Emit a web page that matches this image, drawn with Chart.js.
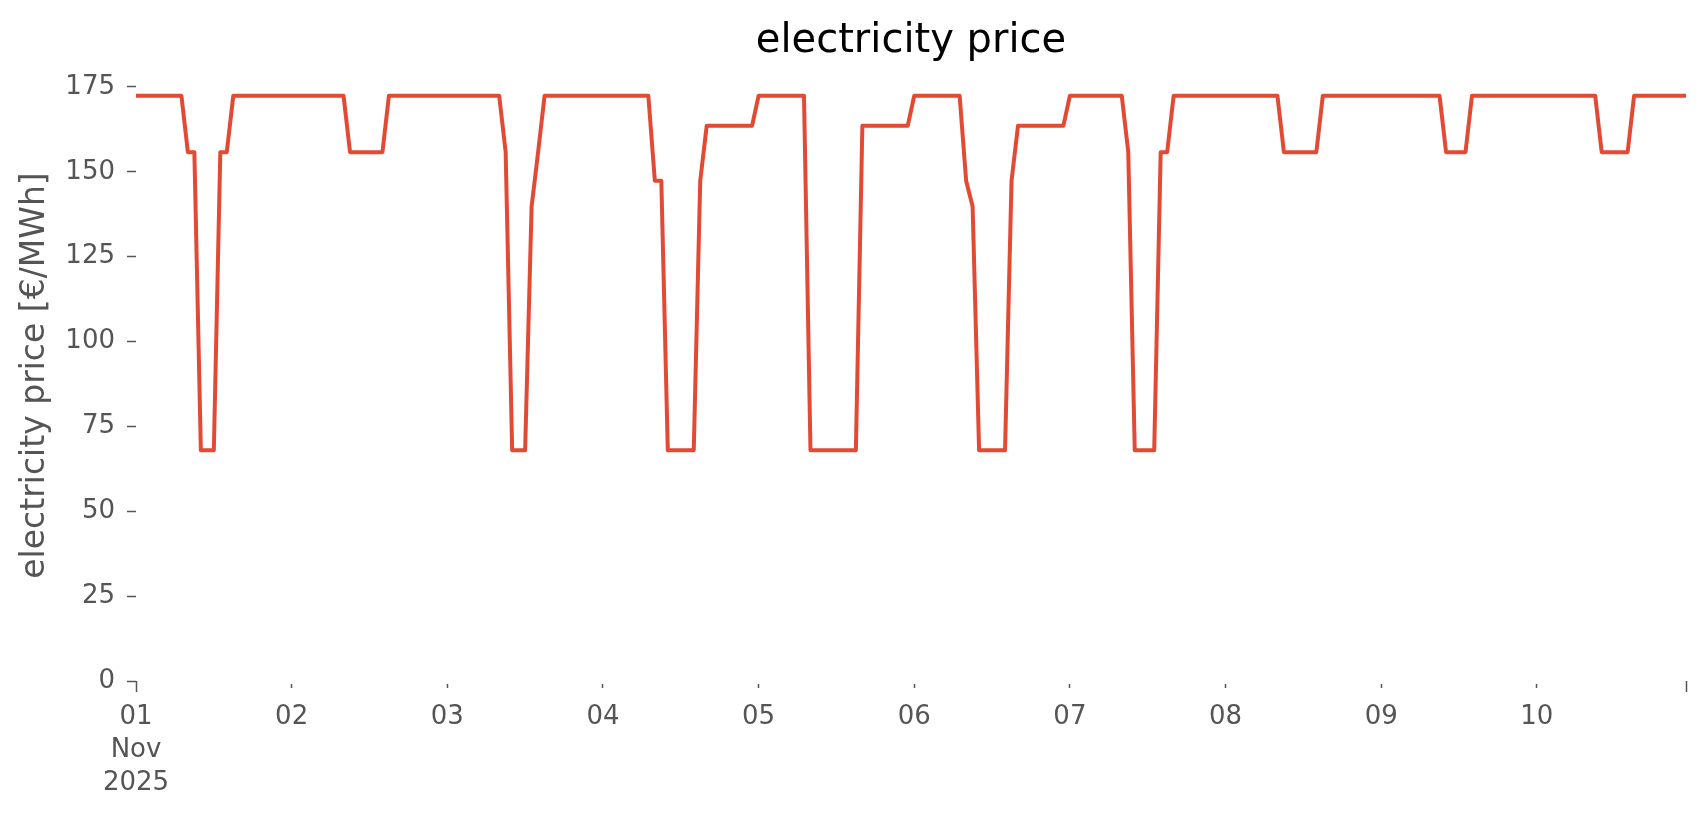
<!DOCTYPE html>
<html>
<head>
<meta charset="utf-8">
<title>electricity price</title>
<script src="https://cdn.jsdelivr.net/npm/chart.js@4.4.1/dist/chart.umd.min.js"></script>
<style>
  html, body { margin: 0; padding: 0; background: #ffffff; }
  canvas { display: block; }
</style>
</head>
<body>
<canvas id="priceChart" width="1706" height="815"></canvas>
<script>
// hourly price, 01 Nov 2025 00:00 .. 10 Nov 2025 23:00 (one row per day)
const prices = [
  172.4, 172.4, 172.4, 172.4, 172.4, 172.4, 172.4, 172.4, 155.8, 155.8, 68.0, 68.0, 68.0, 155.8, 155.8, 172.4, 172.4, 172.4, 172.4, 172.4, 172.4, 172.4, 172.4, 172.4,
  172.4, 172.4, 172.4, 172.4, 172.4, 172.4, 172.4, 172.4, 172.4, 155.8, 155.8, 155.8, 155.8, 155.8, 155.8, 172.4, 172.4, 172.4, 172.4, 172.4, 172.4, 172.4, 172.4, 172.4,
  172.4, 172.4, 172.4, 172.4, 172.4, 172.4, 172.4, 172.4, 172.4, 155.8, 68.0, 68.0, 68.0, 139.8, 155.8, 172.4, 172.4, 172.4, 172.4, 172.4, 172.4, 172.4, 172.4, 172.4,
  172.4, 172.4, 172.4, 172.4, 172.4, 172.4, 172.4, 172.4, 147.4, 147.4, 68.0, 68.0, 68.0, 68.0, 68.0, 147.4, 163.6, 163.6, 163.6, 163.6, 163.6, 163.6, 163.6, 163.6,
  172.4, 172.4, 172.4, 172.4, 172.4, 172.4, 172.4, 172.4, 68.0, 68.0, 68.0, 68.0, 68.0, 68.0, 68.0, 68.0, 163.6, 163.6, 163.6, 163.6, 163.6, 163.6, 163.6, 163.6,
  172.4, 172.4, 172.4, 172.4, 172.4, 172.4, 172.4, 172.4, 147.4, 139.8, 68.0, 68.0, 68.0, 68.0, 68.0, 147.4, 163.6, 163.6, 163.6, 163.6, 163.6, 163.6, 163.6, 163.6,
  172.4, 172.4, 172.4, 172.4, 172.4, 172.4, 172.4, 172.4, 172.4, 155.8, 68.0, 68.0, 68.0, 68.0, 155.8, 155.8, 172.4, 172.4, 172.4, 172.4, 172.4, 172.4, 172.4, 172.4,
  172.4, 172.4, 172.4, 172.4, 172.4, 172.4, 172.4, 172.4, 172.4, 155.8, 155.8, 155.8, 155.8, 155.8, 155.8, 172.4, 172.4, 172.4, 172.4, 172.4, 172.4, 172.4, 172.4, 172.4,
  172.4, 172.4, 172.4, 172.4, 172.4, 172.4, 172.4, 172.4, 172.4, 172.4, 155.8, 155.8, 155.8, 155.8, 172.4, 172.4, 172.4, 172.4, 172.4, 172.4, 172.4, 172.4, 172.4, 172.4,
  172.4, 172.4, 172.4, 172.4, 172.4, 172.4, 172.4, 172.4, 172.4, 172.4, 155.8, 155.8, 155.8, 155.8, 155.8, 172.4, 172.4, 172.4, 172.4, 172.4, 172.4, 172.4, 172.4, 172.4
];

// x ticks: hour offsets of each day start, plus the last sample
const tickHours = [0, 24, 48, 72, 96, 120, 144, 168, 192, 216, 239];
const dayLabels = ["01", "02", "03", "04", "05", "06", "07", "08", "09", "10"];
const firstTickLabel = ["01", "Nov", "2025"];
const yTicks = [0, 25, 50, 75, 100, 125, 150, 175];

const FONT = "'DejaVu Sans', sans-serif";
const TICK_COLOR = "#555555";
const LINE_COLOR = "#E24A33";

const points = prices.map((v, i) => ({ x: i, y: v }));

const ctx = document.getElementById("priceChart").getContext("2d");

new Chart(ctx, {
    type: "line",
    data: {
        datasets: [{
            label: "electricity price",
            data: points,
            borderColor: LINE_COLOR,
            borderWidth: 4,
            borderJoinStyle: "round",
            borderCapStyle: "butt",
            pointRadius: 0,
            tension: 0,
            fill: false
        }]
    },
    options: {
        responsive: false,
        animation: false,
        devicePixelRatio: 1,
        layout: { padding: { left: 0, right: 20, top: 0, bottom: 0 } },
        plugins: {
            legend: { display: false },
            tooltip: { enabled: false },
            title: {
                display: true,
                text: "electricity price",
                color: "#000000",
                fullSize: false,
                font: { family: FONT, size: 40, weight: "normal", lineHeight: 1.2 },
                padding: { top: 18, bottom: 4 }
            }
        },
        scales: {
            x: {
                type: "linear",
                min: 0,
                max: 239,
                afterBuildTicks: scale => {
                    scale.ticks = tickHours.map(h => ({ value: h }));
                },
                afterFit: scale => { scale.height = 134; },
                border: { display: false },
                grid: {
                    drawOnChartArea: false,
                    drawTicks: true,
                    tickLength: 11,
                    tickColor: TICK_COLOR,
                    tickWidth: 1.5,
                    tickBorderDash: c => (c.tick && (c.tick.value === 0 || c.tick.value === 239)) ? [] : [4, 100],
                    tickBorderDashOffset: c => (c.tick && (c.tick.value === 0 || c.tick.value === 239)) ? 0 : 101
                },
                ticks: {
                    autoSkip: false,
                    maxRotation: 0,
                    minRotation: 0,
                    padding: 9,
                    color: TICK_COLOR,
                    font: { family: FONT, size: 26, lineHeight: 33 / 26 },
                    callback: value => {
                        if (value === 0) return firstTickLabel;
                        if (value % 24 === 0) return dayLabels[value / 24];
                        return "";
                    }
                }
            },
            y: {
                min: 0,
                max: 180,
                afterBuildTicks: scale => {
                    scale.ticks = yTicks.map(v => ({ value: v }));
                },
                afterFit: scale => { scale.width = 136; },
                border: { display: false },
                grid: {
                    drawOnChartArea: false,
                    drawTicks: true,
                    tickLength: 9,
                    tickColor: TICK_COLOR,
                    tickWidth: 1.5
                },
                ticks: {
                    padding: 12,
                    color: TICK_COLOR,
                    font: { family: FONT, size: 26 }
                },
                title: {
                    display: true,
                    text: "electricity price [€/MWh]",
                    color: TICK_COLOR,
                    font: { family: FONT, size: 33, lineHeight: 1.2 },
                    padding: { top: 16, bottom: 0 }
                }
            }
        }
    }
});
</script>
</body>
</html>
